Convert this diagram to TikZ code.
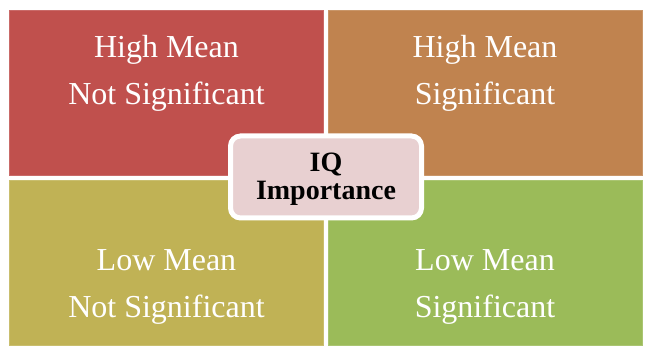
\documentclass[tikz,border=0pt]{standalone}
\usepackage{fontspec}
\setmainfont{Liberation Serif}
\usetikzlibrary{positioning}

\definecolor{hmnsred}{HTML}{C0504D}
\definecolor{hmsbrown}{HTML}{C0834F}
\definecolor{lmnsolive}{HTML}{C0B255}
\definecolor{lmsgreen}{HTML}{9BBB59}
\definecolor{iqpink}{HTML}{E8D0D1}

\begin{document}
\begin{tikzpicture}[x=1pt, y=-1pt,
  quad/.style={rectangle, inner sep=0, minimum width=314pt, minimum height=165pt,
    draw=#1!85!white, line width=0.5pt, fill=#1},
  lbl/.style={text=white, align=center, inner sep=0, font=\fontsize{32}{47}\selectfont},
  iqbox/.style={rectangle, rounded corners=10pt, draw=white, line width=5pt, fill=iqpink,
    minimum width=191pt, minimum height=82pt},
  iqlbl/.style={align=center, inner sep=0, font=\bfseries\fontsize{28}{28}\selectfont}]
\useasboundingbox (0,0) rectangle (646,350);
% the four quadrants
\node[quad=hmnsred] at (166.5, 92.5) (HMNS) {};
\node[quad=hmsbrown] at (485, 92.5) (HMS) {};
\node[quad=lmnsolive] at (166.5, 262.5) (LMNS) {};
\node[quad=lmsgreen] at (485, 262.5) (LMS) {};
\node[lbl] at (166.5, 73) (hmnsText) {High Mean\\Not Significant};
\node[lbl] at (485, 73) (hmsText) {High Mean\\Significant};
\node[lbl] at (166.5, 287) (lmnsText) {Low Mean\\Not Significant};
\node[lbl] at (485, 287) (lmsText) {Low Mean\\Significant};
% centre box
\node[iqbox] at (326, 177) (IQ) {};
\node[iqlbl] at (326, 179) (iqText) {IQ\\Importance};
\end{tikzpicture}
\end{document}
